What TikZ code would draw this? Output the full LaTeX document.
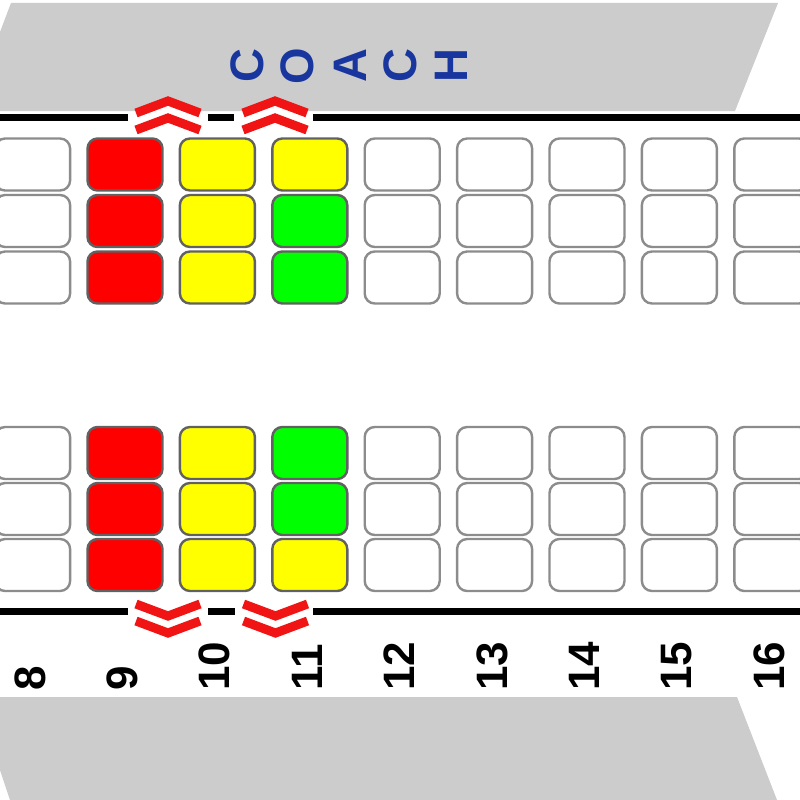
\documentclass[tikz,border=0pt]{standalone}
\usepackage{fontspec}
\setmainfont{Liberation Sans}
\definecolor{wingGray}{RGB}{204,204,204}
\definecolor{coachBlue}{RGB}{24,54,158}
\definecolor{seatRed}{RGB}{255,0,0}
\definecolor{seatYellow}{RGB}{255,255,0}
\definecolor{seatGreen}{RGB}{0,255,0}
\definecolor{exitRed}{RGB}{240,20,20}
\begin{document}
\begin{tikzpicture}[x=1pt,y=-1pt,
  seat/.style={draw=black!62, line width=2.4pt, rounded corners=10pt,
    minimum width=75pt, minimum height=52pt, inner sep=0pt},
  free/.style={seat, draw=black!45, fill=white},
  wing/.style={fill=wingGray, draw=none},
  rail/.style={draw=black, line width=7pt},
  chev/.style={draw=exitRed, line width=9pt, line join=miter},
  halo/.style={draw=white, line width=11pt, line join=miter},
  rowno/.style={rotate=90, anchor=west, inner sep=0pt,
    font=\bfseries\fontsize{44}{44}\selectfont},
  coach/.style={rotate=90, anchor=center, inner sep=0pt, text=coachBlue,
    font=\bfseries\fontsize{47}{47}\selectfont}]
\useasboundingbox (0,0) rectangle (800,800);
\clip (0,0) rectangle (800,800);
\fill[white] (0,0) rectangle (800,800);

% wings
\path[wing] (11,3) -- (778,3) -- (735,111) -- (0,111) -- (0,32) -- cycle;
\path[wing] (0,697) -- (737,697) -- (777,800) -- (10,800) -- (0,770) -- cycle;

% COACH
\node[coach] (l1) at (247,66) {C};
\node[coach] (l2) at (297,66) {O};
\node[coach] (l3) at (350,66) {A};
\node[coach] (l4) at (400,66) {C};
\node[coach] (l5) at (451,66) {H};

% rails
\draw[rail] (0,117.5) -- (128,117.5);
\draw[rail] (208,117.5) -- (234,117.5);
\draw[rail] (313,117.5) -- (800,117.5);
\draw[rail] (0,611) -- (128,611);
\draw[rail] (208,611) -- (235,611);
\draw[rail] (313,611) -- (800,611);

% exit chevrons (top, pointing up)
\foreach \cx in {168,275}{
  \draw[halo] (\cx-32,121.5) -- (\cx,109.5) -- (\cx+32,121.5);
  \draw[chev] (\cx-32,113) -- (\cx,101) -- (\cx+32,113);
  \draw[chev] (\cx-32,130) -- (\cx,118) -- (\cx+32,130);
}
% exit chevrons (bottom, pointing down)
\foreach \cx in {168,275.5}{
  \draw[halo] (\cx-32,612.5) -- (\cx,624.5) -- (\cx+32,612.5);
  \draw[chev] (\cx-32,604) -- (\cx,616) -- (\cx+32,604);
  \draw[chev] (\cx-32,621) -- (\cx,633) -- (\cx+32,621);
}

% free seats
\foreach \c in {8,12,13,14,15,16}{
  \foreach \r/\yy in {1/164.5,2/221,3/277.5,4/453,5/509,6/565}{
    \node[free] (s\c-\r) at ({32.6+92.4*(\c-8)},\yy) {};
  }
}
% occupied / priced seats
\foreach \c/\r/\yy/\col in {
  9/1/164.5/seatRed, 9/2/221/seatRed, 9/3/277.5/seatRed,
  9/4/453/seatRed, 9/5/509/seatRed, 9/6/565/seatRed,
  10/1/164.5/seatYellow, 10/2/221/seatYellow, 10/3/277.5/seatYellow,
  10/4/453/seatYellow, 10/5/509/seatYellow, 10/6/565/seatYellow,
  11/1/164.5/seatYellow, 11/2/221/seatGreen, 11/3/277.5/seatGreen,
  11/4/453/seatGreen, 11/5/509/seatGreen, 11/6/565/seatYellow}{
  \node[seat, fill=\col] (s\c-\r) at ({32.6+92.4*(\c-8)},\yy) {};
}

% row numbers
\foreach \c in {8,...,16}{
  \node[rowno] (n\c) at ({30+92.4*(\c-8)},691) {\c};
}
\end{tikzpicture}
\end{document}
